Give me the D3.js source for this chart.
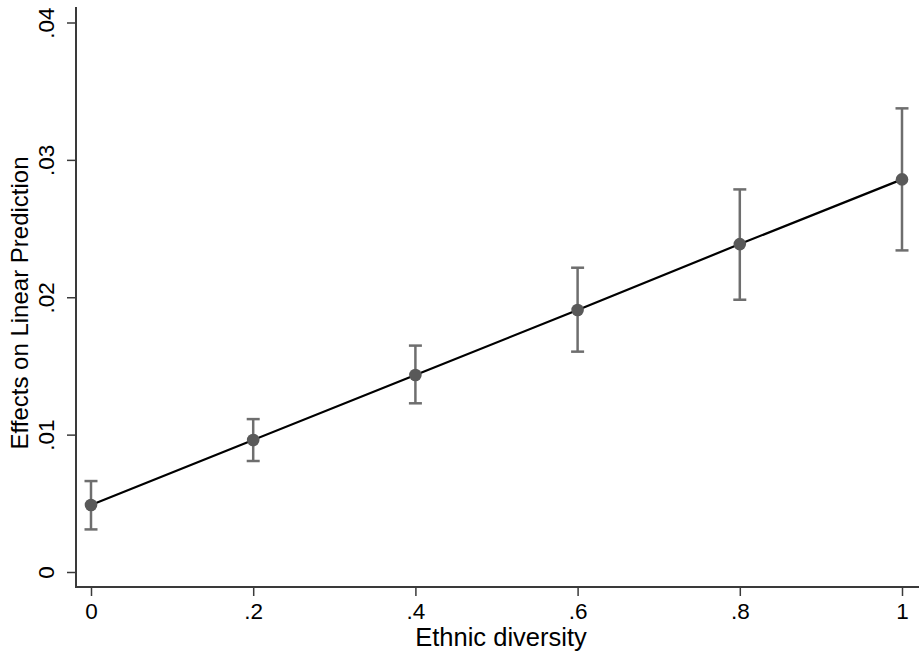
<!DOCTYPE html>
<html>
<head>
<meta charset="utf-8">
<script src="https://cdn.jsdelivr.net/npm/d3@7"></script>
<style>
  body { margin: 0; background: #fff; }
  text { font-family: "Liberation Sans", Arial, sans-serif; fill: #000; }
</style>
</head>
<body>
<script>
// marginal effects
var xVals = [0, 0.2, 0.4, 0.6, 0.8, 1];
var est   = [0.00488, 0.00961, 0.01434, 0.01907, 0.02387, 0.02858];
var upper = [0.00662, 0.01113, 0.01648, 0.02215, 0.02785, 0.03375];
var lower = [0.00310, 0.00808, 0.01228, 0.01604, 0.01982, 0.02341];
var xTicks = [0, 0.2, 0.4, 0.6, 0.8, 1];
var yTicks = [0, 0.01, 0.02, 0.03, 0.04];

var width = 919,
	height = 652;

var svg = d3.select("body").append("svg")
	.attr("width", width)
	.attr("height", height);

var xScale = d3.scaleLinear()
	.domain([0, 1])
	.range([91, 902]);

var yScale = d3.scaleLinear()
	.domain([0, 0.04])
	.range([572, 22.5]);

// stata style labels: drop leading zero
var fmt = function(v){
	if (v === 0) return "0";
	if (v === 1) return "1";
	return String(v).replace(/^0/, "");
};

var axisColor = "#3a3a3a";

// axes lines
svg.append("line")
	.attr("x1", 76).attr("x2", 76)
	.attr("y1", 7).attr("y2", 587)
	.attr("stroke", axisColor).attr("stroke-width", 2);
svg.append("line")
	.attr("x1", 75).attr("x2", 919)
	.attr("y1", 587).attr("y2", 587)
	.attr("stroke", axisColor).attr("stroke-width", 2);

// y ticks
var yAxis = svg.append("g").attr("transform", "translate(76,0)")
	.call(d3.axisLeft(yScale).tickValues(yTicks).tickSize(9).tickSizeOuter(0).tickFormat(fmt));
yAxis.select(".domain").remove();
yAxis.selectAll(".tick line").attr("stroke", axisColor).attr("stroke-width", 1.5);
yAxis.selectAll(".tick text")
	.attr("x", 0).attr("dy", 0)
	.attr("transform", "translate(-22.5,0) rotate(-90)")
	.attr("text-anchor", "middle")
	.style("font-size", "22.5px");

// x ticks
var xAxis = svg.append("g").attr("transform", "translate(0,587)")
	.call(d3.axisBottom(xScale).tickValues(xTicks).tickSize(9).tickSizeOuter(0).tickFormat(fmt));
xAxis.select(".domain").remove();
xAxis.selectAll(".tick text")
	.attr("y", 32).attr("dy", 0)
	.style("font-size", "22.5px");
xAxis.selectAll(".tick line").attr("stroke", axisColor).attr("stroke-width", 1.5);

// titles
svg.append("text")
	.attr("x", 501).attr("y", 646)
	.attr("text-anchor", "middle")
	.style("font-size", "25.5px")
	.text("Ethnic diversity");

svg.append("text")
	.attr("transform", "translate(28,303) rotate(-90)")
	.attr("text-anchor", "middle")
	.style("font-size", "24px")
	.text("Effects on Linear Prediction");

var data = xVals.map(function(x, i){
	return { x: x, y: est[i], hi: upper[i], lo: lower[i] };
});

// connecting line
svg.append("path")
	.datum(data)
	.attr("fill", "none")
	.attr("stroke", "#000")
	.attr("stroke-width", 2.2)
	.attr("d", d3.line()
		.x(function(d){ return xScale(d.x); })
		.y(function(d){ return yScale(d.y); }));

// error bars
var barColor = "#6e6e6e";
var bars = svg.selectAll(".ci").data(data).enter().append("g").classed("ci", true);
bars.append("line")
	.attr("x1", function(d){ return xScale(d.x); })
	.attr("x2", function(d){ return xScale(d.x); })
	.attr("y1", function(d){ return yScale(d.hi); })
	.attr("y2", function(d){ return yScale(d.lo); })
	.attr("stroke", barColor).attr("stroke-width", 2.5);
bars.append("line")
	.attr("x1", function(d){ return xScale(d.x) - 6.5; })
	.attr("x2", function(d){ return xScale(d.x) + 6.5; })
	.attr("y1", function(d){ return yScale(d.hi); })
	.attr("y2", function(d){ return yScale(d.hi); })
	.attr("stroke", barColor).attr("stroke-width", 2.5);
bars.append("line")
	.attr("x1", function(d){ return xScale(d.x) - 6.5; })
	.attr("x2", function(d){ return xScale(d.x) + 6.5; })
	.attr("y1", function(d){ return yScale(d.lo); })
	.attr("y2", function(d){ return yScale(d.lo); })
	.attr("stroke", barColor).attr("stroke-width", 2.5);

// markers
svg.selectAll("circle").data(data).enter().append("circle")
	.attr("cx", function(d){ return xScale(d.x); })
	.attr("cy", function(d){ return yScale(d.y); })
	.attr("r", 6.3)
	.attr("fill", "#595959");
</script>
</body>
</html>
